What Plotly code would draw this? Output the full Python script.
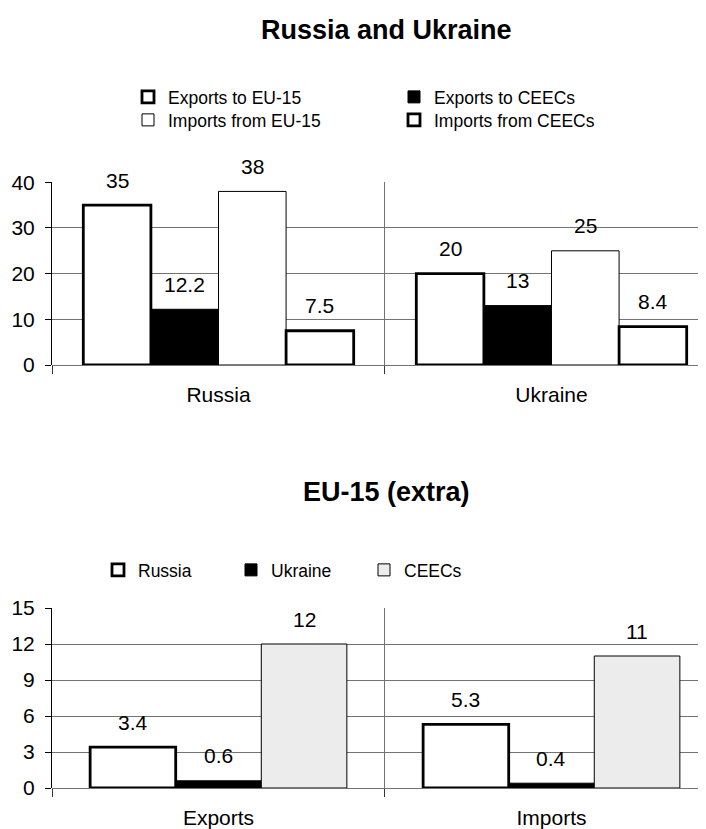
import plotly.graph_objects as go

# ---- data ----
top_categories = ["Russia", "Ukraine"]
top_series = ["Exports to EU-15", "Exports to CEECs", "Imports from EU-15", "Imports from CEECs"]
exports_to_eu15 = [35, 20]
exports_to_ceecs = [12.2, 13]
imports_from_eu15 = [38, 25]
imports_from_ceecs = [7.5, 8.4]

bottom_categories = ["Exports", "Imports"]
bottom_series = ["Russia", "Ukraine", "CEECs"]
eu_russia = [3.4, 5.3]
eu_ukraine = [0.6, 0.4]
eu_ceecs = [12, 11]

top_values = [exports_to_eu15, exports_to_ceecs, imports_from_eu15, imports_from_ceecs]
bottom_values = [eu_russia, eu_ukraine, eu_ceecs]

# ---- styles ----
FONT = "Liberation Sans, Arial, sans-serif"
top_styles = [
    dict(fill="white", line="black", lw=2.8, legend="legend"),
    dict(fill="black", line="black", lw=1.0, legend="legend2"),
    dict(fill="white", line="black", lw=1.0, legend="legend3"),
    dict(fill="white", line="black", lw=2.8, legend="legend4"),
]
bottom_styles = [
    dict(fill="white", line="black", lw=2.8, legend="legend5"),
    dict(fill="black", line="black", lw=1.0, legend="legend5"),
    dict(fill="#ececec", line="black", lw=1.0, legend="legend5"),
]
W_TOP = 0.203
W_BOT = 0.257
LABEL_SIZE = 21

fig = go.Figure()
annotations = []

def add_group(names, values, styles, width, xaxis, yaxis, cats):
    n = len(names)
    start = -n * width / 2
    for i, (name, vals, st) in enumerate(zip(names, values, styles)):
        off = start + i * width
        fig.add_trace(go.Bar(
            x=cats, y=vals, name=name,
            width=width, offset=off,
            marker=dict(color=st["fill"], line=dict(color=st["line"], width=st["lw"])),
            xaxis=xaxis, yaxis=yaxis,
            legend=st["legend"],
            showlegend=True,
        ))
        for j, v in enumerate(vals):
            annotations.append(dict(
                x=j + off + width / 2, y=v, xref=xaxis, yref=yaxis,
                text=str(v), showarrow=False, yshift=25,
                font=dict(family=FONT, size=LABEL_SIZE, color="black"),
            ))

add_group(top_series, top_values, top_styles, W_TOP, "x", "y", top_categories)
add_group(bottom_series, bottom_values, bottom_styles, W_BOT, "x2", "y2", bottom_categories)

# page body adds an 8px offset; positions below are in window pixels
OFF = 8.0
H = 829.0
ML = 52.0 - OFF
MR = 8.0
PW = 706.0 - ML - MR
def py(p):
    return 1 - (p - OFF) / H
def px(p):
    return (p - OFF - ML) / PW

GRID = "#737373"
xcommon = dict(
    type="category", range=[-0.5, 1.464], tickson="boundaries",
    showgrid=True, gridcolor=GRID, gridwidth=1,
    ticks="outside", ticklen=8, tickcolor="#333",
    showline=False, zeroline=False, automargin=False,
    tickfont=dict(family=FONT, size=21, color="black"),
    ticklabelstandoff=15,
)
ycommon = dict(
    showgrid=True, gridcolor=GRID, gridwidth=1,
    showline=True, linecolor="black", linewidth=1,
    ticks="outside", ticklen=6, tickcolor="black",
    zeroline=True, zerolinecolor=GRID, zerolinewidth=1, automargin=False,
    tickfont=dict(family=FONT, size=21, color="black"),
    ticklabelstandoff=6,
)

annotations.append(dict(text="<b>Russia and Ukraine</b>", x=px(386), xref="paper", y=py(30), yref="paper",
                        xanchor="center", yanchor="middle",
                        showarrow=False, font=dict(family=FONT, size=27, color="black")))
annotations.append(dict(text="<b>EU-15 (extra)</b>", x=px(386), xref="paper", y=py(492), yref="paper",
                        xanchor="center", yanchor="middle",
                        showarrow=False, font=dict(family=FONT, size=27, color="black")))

legend_font = dict(family=FONT, size=17.5, color="black")
def leg(xp, yp, **kw):
    d = dict(x=px(xp), y=py(yp), xanchor="left", yanchor="middle", orientation="v",
             font=legend_font, bgcolor="rgba(0,0,0,0)")
    d.update(kw)
    return d

fig.update_layout(
    width=706, height=829,
    margin=dict(l=ML, r=MR, t=0, b=0, autoexpand=False),
    paper_bgcolor="white", plot_bgcolor="white",
    barmode="group",
    showlegend=True,
    xaxis=dict(domain=[0, 1], anchor="y", **xcommon),
    yaxis=dict(domain=[py(365), py(182.3)], anchor="x", range=[0, 40], dtick=10, **ycommon),
    xaxis2=dict(domain=[0, 1], anchor="y2", **xcommon),
    yaxis2=dict(domain=[py(788), py(608)], anchor="x2", range=[0, 15], dtick=3, **ycommon),
    legend=leg(128, 97),
    legend2=leg(394, 97),
    legend3=leg(128, 120),
    legend4=leg(394, 120),
    legend5=leg(98, 570, orientation="h", entrywidth=88, entrywidthmode="pixels"),
    annotations=annotations,
)

fig.write_html("out.html")
